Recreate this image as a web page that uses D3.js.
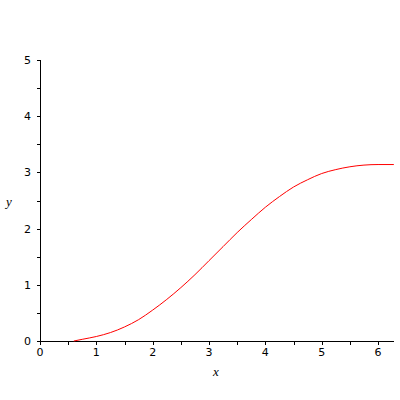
<!DOCTYPE html>
<html>
<head>
<meta charset="utf-8">
<script src="https://cdn.jsdelivr.net/npm/d3@7"></script>
<style>
  html, body { margin: 0; padding: 0; background: #fff; }
  svg { display: block; }
  .tick-label { font-family: "DejaVu Sans", sans-serif; font-size: 11px; fill: #000; }
  .axis-title { font-family: "Liberation Serif", serif; font-style: italic; font-size: 13px; fill: #000; }
</style>
</head>
<body>
<svg id="chart" width="400" height="400"></svg>
<script>
// values
const xValues = [0.6, 0.75, 1.0, 1.25, 1.5, 1.75, 2.0, 2.25, 2.5, 2.75, 3.0, 3.25, 3.5,
                 3.75, 4.0, 4.25, 4.5, 4.75, 5.0, 5.25, 5.5, 5.75, 6.0, 6.28];
const yValues = [0.0, 0.03, 0.08, 0.15, 0.25, 0.38, 0.55, 0.74, 0.95, 1.18, 1.43, 1.68, 1.93,
                 2.16, 2.38, 2.57, 2.74, 2.87, 2.98, 3.05, 3.10, 3.13, 3.14, 3.14];
const xTicks = [0, 1, 2, 3, 4, 5, 6];
const yTicks = [0, 1, 2, 3, 4, 5];

document.addEventListener("DOMContentLoaded", () => {
    const svg = d3.select("#chart");

    const x = d3.scaleLinear().domain([0, 6.283]).range([40, 394]);
    const y = d3.scaleLinear().domain([0, 5]).range([341, 60]);

    // minor ticks every half unit
    const xMinor = d3.range(0.5, 6.3, 1);
    const yMinor = d3.range(0.5, 5, 1);

    // x axis
    const gx = svg.append("g").attr("stroke", "#000").attr("stroke-width", 1);
    gx.append("line")
        .attr("x1", x(0)).attr("x2", x.range()[1])
        .attr("y1", y(0) + 0.5).attr("y2", y(0) + 0.5);
    gx.selectAll(".xt")
        .data(xTicks.concat(xMinor))
        .enter()
        .append("line")
        .attr("x1", d => Math.round(x(d)) + 0.5).attr("x2", d => Math.round(x(d)) + 0.5)
        .attr("y1", y(0)).attr("y2", y(0) + 4);

    svg.selectAll(".xl")
        .data(xTicks)
        .enter()
        .append("text")
        .attr("class", "tick-label")
        .attr("x", d => x(d))
        .attr("y", y(0) + 15)
        .attr("text-anchor", "middle")
        .text(d => d);

    // y axis
    const gy = svg.append("g").attr("stroke", "#000").attr("stroke-width", 1);
    gy.append("line")
        .attr("x1", x(0) + 0.5).attr("x2", x(0) + 0.5)
        .attr("y1", y(5)).attr("y2", y(0) + 1);
    gy.selectAll(".yt")
        .data(yTicks.concat(yMinor))
        .enter()
        .append("line")
        .attr("x1", x(0) - 3).attr("x2", x(0))
        .attr("y1", d => Math.round(y(d)) + 0.5).attr("y2", d => Math.round(y(d)) + 0.5);

    svg.selectAll(".yl")
        .data(yTicks)
        .enter()
        .append("text")
        .attr("class", "tick-label")
        .attr("x", x(0) - 9)
        .attr("y", d => y(d) + 4)
        .attr("text-anchor", "end")
        .text(d => d);

    // axis titles
    svg.append("text").attr("class", "axis-title")
        .attr("x", 216).attr("y", 376).attr("text-anchor", "middle").text("x");
    svg.append("text").attr("class", "axis-title")
        .attr("x", 9).attr("y", 206).attr("text-anchor", "middle").text("y");

    // curve
    const line = d3.line()
        .x((d, i) => x(xValues[i]))
        .y(d => y(d))
        .curve(d3.curveMonotoneX);

    svg.append("path")
        .datum(yValues)
        .attr("fill", "none")
        .attr("stroke", "#ff0000")
        .attr("stroke-width", 1)
        .attr("d", line);
});
</script>
</body>
</html>
